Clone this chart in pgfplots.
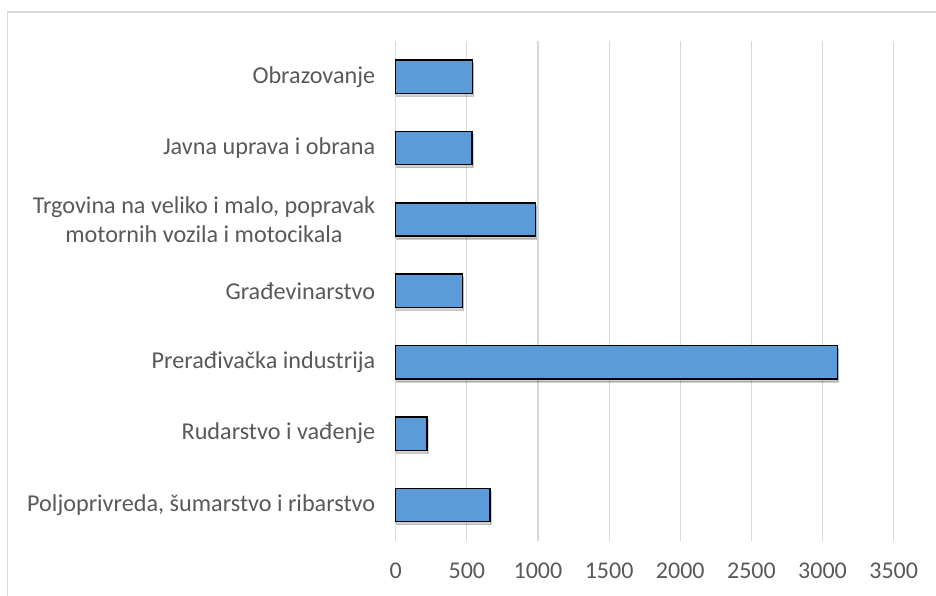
\documentclass[border=0pt]{standalone}
\usepackage{fontspec}
\setmainfont{Carlito}
\usepackage{pgfplots}
\pgfplotsset{compat=1.18}
\usetikzlibrary{shadows}
\definecolor{txt}{HTML}{595959}
\definecolor{grd}{HTML}{D9D9D9}
\definecolor{barfill}{HTML}{5B9BD8}
\begin{document}
\begin{tikzpicture}
\path[use as bounding box] (0,0) rectangle (936pt,596pt);
\draw[grd, line width=1.3pt] (7.5pt,-5pt) -- (7.5pt,584pt) -- (945pt,584pt);
\begin{axis}[
  at={(395.7pt,55.3pt)}, anchor=south west,
  scale only axis, width=498pt, height=499.7pt,
  xmin=0, xmax=3500, ymin=-0.5, ymax=6.5,
  xtick={0,500,...,3500}, ytick={0,...,6},
  yticklabels={{Poljoprivreda, šumarstvo i ribarstvo},{Rudarstvo i vađenje},{Prerađivačka industrija},{Građevinarstvo},{Trgovina na veliko i malo, popravak\\motornih vozila i motocikala},{Javna uprava i obrana},{Obrazovanje}},
  yticklabel style={align=center, xshift=-17pt, font=\fontsize{24.2}{29}\selectfont},
  xticklabel style={yshift=-19pt},
  every tick label/.append style={font=\fontsize{24}{29}\selectfont, text=txt},
  /pgf/number format/assume math mode=true,
  /pgf/number format/1000 sep={},
  major tick length=0pt,
  axis line style={draw=none},
  xmajorgrids, grid style={grd, line width=1.1pt},
  clip=false,
]
\addplot[xbar, bar width=33.3pt, draw=black, line width=1.4pt,
  fill=barfill,
  drop shadow={shadow xshift=1pt, shadow yshift=-3pt, fill=black, opacity=0.18}]
  coordinates {(664,0) (219,1) (3106,2) (471,3) (983,4) (537,5) (540,6)};
\end{axis}
\end{tikzpicture}
\end{document}
